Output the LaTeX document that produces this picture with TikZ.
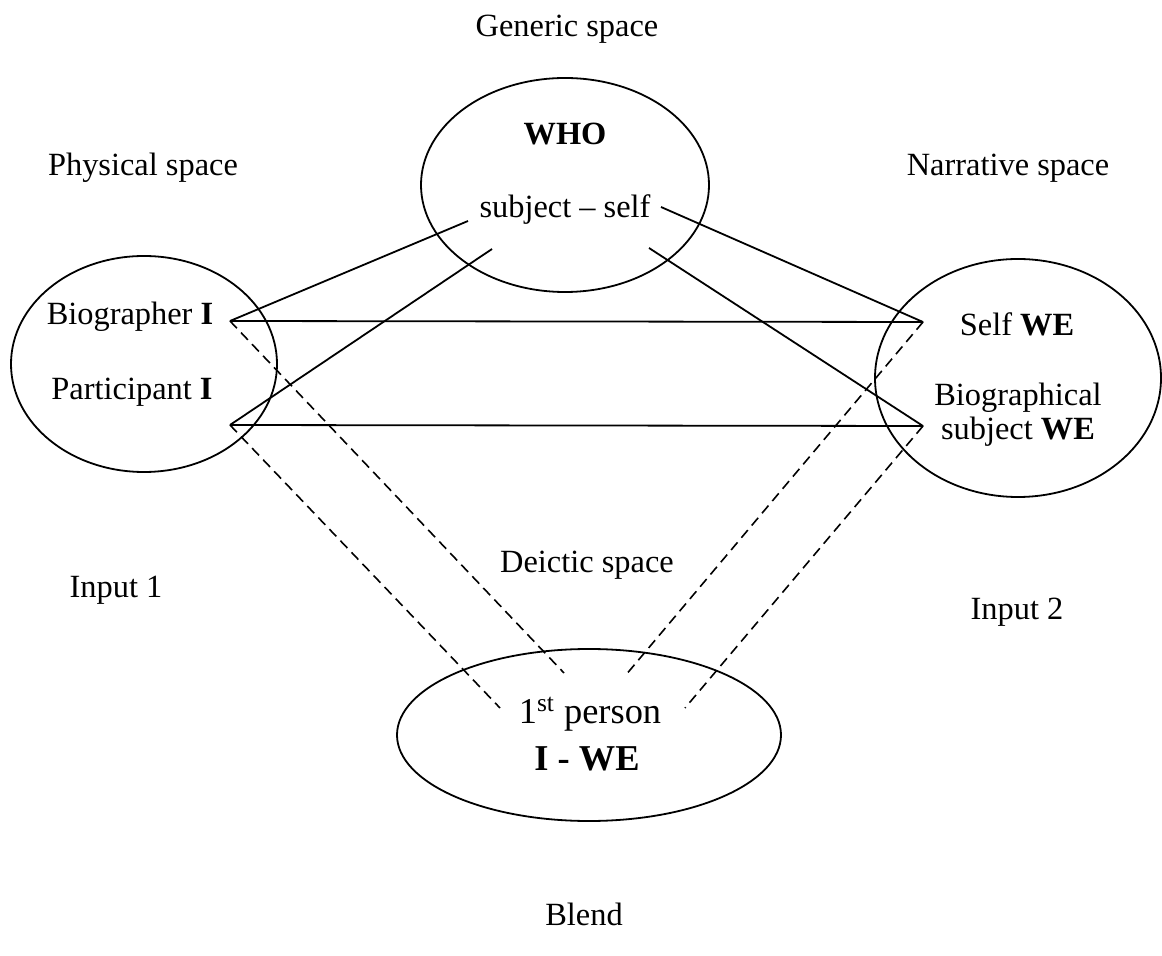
\documentclass[tikz,border=0pt]{standalone}
\usepackage{fontspec}
\setmainfont{Liberation Serif}
\usetikzlibrary{shapes.geometric}
\begin{document}
\begin{tikzpicture}[x=0.5pt,y=-0.5pt,
  label/.style={inner sep=0pt,font=\fontsize{16.2pt}{19pt}\selectfont},
  biglabel/.style={inner sep=0pt,font=\fontsize{18.2pt}{21pt}\selectfont},
  space/.style={draw,ellipse,line width=0.9pt,inner sep=0pt},
  link/.style={line width=0.9pt},
  dlink/.style={line width=0.8pt,dash pattern=on 5pt off 3pt}]
\useasboundingbox (0,0) rectangle (1162,956);

% mental spaces
\node[space,minimum width=144pt,minimum height=107pt] (generic) at (565,185) {};
\node[space,minimum width=133pt,minimum height=108pt] (input1) at (144,364) {};
\node[space,minimum width=143pt,minimum height=119pt] (input2) at (1018,378) {};
\node[space,minimum width=192pt,minimum height=86pt] (blend) at (589,735) {};

% captions
\node[label] (capgeneric) at (567,29) {Generic space};
\node[label] (capphys) at (143,168) {Physical space};
\node[label] (capnarr) at (1008,168) {Narrative space};
\node[label] (capin1) at (116,590) {Input 1};
\node[label] (capdeictic) at (587,565) {Deictic space};
\node[label] (capin2) at (1017,612) {Input 2};
\node[label] (capblend) at (584,914) {Blend};

% contents of the spaces
\node[label] (who) at (565,134) {\textbf{WHO}};
\node[label] (subj) at (565,210) {subject -- self};
\node[label] (biog) at (130,317) {Biographer \textbf{I}};
\node[label] (part) at (132,392) {Participant \textbf{I}};
\node[label] (selfwe) at (1017,324) {Self \textbf{WE}};
\node[label,align=center] (biowe) at (1018,415) {Biographical\\[-2pt]subject \textbf{WE}};
\node[biglabel] (first) at (590,714) {1\textsuperscript{st} person};
\node[biglabel] (iwe) at (587,759) {\textbf{I - WE}};

% anchor points of the connectors
\coordinate (bI) at (230,321);
\coordinate (pI) at (230,425);
\coordinate (sW) at (923,322);
\coordinate (bW) at (923,426);
\coordinate (gL1) at (468,221);
\coordinate (gL2) at (492,249);
\coordinate (gR1) at (661,207);
\coordinate (gR2) at (649,248);
\coordinate (bl1) at (564,673);
\coordinate (bl2) at (500,708);
\coordinate (bl3) at (625,676);
\coordinate (bl4) at (685,708);

% generic-space mappings
\draw[link] (bI) -- (gL1);
\draw[link] (pI) -- (gL2);
\draw[link] (gR1) -- (sW);
\draw[link] (gR2) -- (bW);

% cross-space mappings
\draw[link] (bI) -- (sW);
\draw[link] (pI) -- (bW);

% projections into the blend
\draw[dlink] (bI) -- (bl1);
\draw[dlink] (pI) -- (bl2);
\draw[dlink] (sW) -- (bl3);
\draw[dlink] (bW) -- (bl4);
\end{tikzpicture}
\end{document}
